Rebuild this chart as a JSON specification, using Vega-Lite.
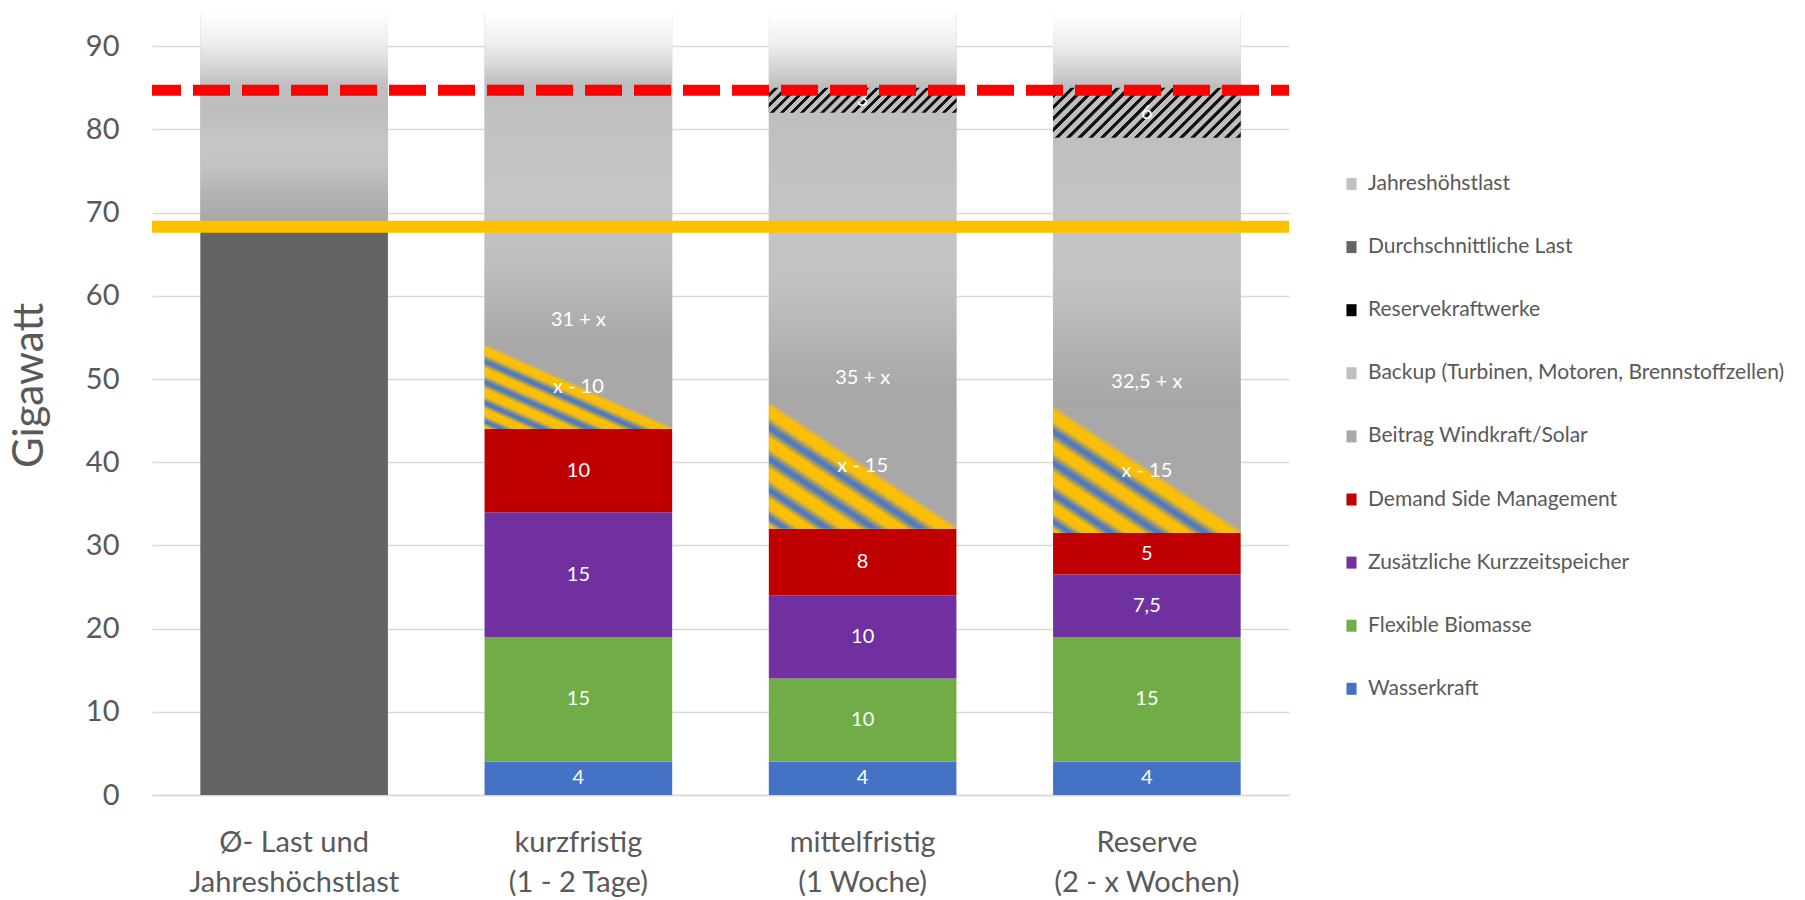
{
  "$schema": "https://vega.github.io/schema/vega-lite/v6.json",
  "autosize": "none",
  "padding": {"left": 152, "top": 13, "right": 516, "bottom": 105},
  "width": 1137,
  "height": 782,
  "background": "#ffffff",
  "config": {"view": {"stroke": null}, "font": "Lato"},
  "datasets": {
    "segmente": [
      {"kat": "Ø- Last und|Jahreshöchstlast", "serie": "Durchschnittliche Last", "von": 0, "bis": 68},
      {"kat": "Ø- Last und|Jahreshöchstlast", "serie": "Jahreshöhstlast", "von": 68, "bis": 94},
      {"kat": "kurzfristig|(1 - 2 Tage)", "serie": "Wasserkraft", "von": 0, "bis": 4, "label": "4"},
      {"kat": "kurzfristig|(1 - 2 Tage)", "serie": "Flexible Biomasse", "von": 4, "bis": 19, "label": "15"},
      {"kat": "kurzfristig|(1 - 2 Tage)", "serie": "Zusätzliche Kurzzeitspeicher", "von": 19, "bis": 34, "label": "15"},
      {"kat": "kurzfristig|(1 - 2 Tage)", "serie": "Demand Side Management", "von": 34, "bis": 44, "label": "10"},
      {"kat": "kurzfristig|(1 - 2 Tage)", "serie": "Beitrag Windkraft/Solar", "von": 44, "bis": 54, "label": "x - 10"},
      {"kat": "kurzfristig|(1 - 2 Tage)", "serie": "Backup (Turbinen, Motoren, Brennstoffzellen)", "von": 54, "bis": 94, "label": "31 + x"},
      {"kat": "mittelfristig|(1 Woche)", "serie": "Wasserkraft", "von": 0, "bis": 4, "label": "4"},
      {"kat": "mittelfristig|(1 Woche)", "serie": "Flexible Biomasse", "von": 4, "bis": 14, "label": "10"},
      {"kat": "mittelfristig|(1 Woche)", "serie": "Zusätzliche Kurzzeitspeicher", "von": 14, "bis": 24, "label": "10"},
      {"kat": "mittelfristig|(1 Woche)", "serie": "Demand Side Management", "von": 24, "bis": 32, "label": "8"},
      {"kat": "mittelfristig|(1 Woche)", "serie": "Beitrag Windkraft/Solar", "von": 32, "bis": 47, "label": "x - 15"},
      {"kat": "mittelfristig|(1 Woche)", "serie": "Backup (Turbinen, Motoren, Brennstoffzellen)", "von": 47, "bis": 94, "label": "35 + x"},
      {"kat": "mittelfristig|(1 Woche)", "serie": "Reservekraftwerke", "von": 82, "bis": 85, "label": "3"},
      {"kat": "Reserve|(2 - x Wochen)", "serie": "Wasserkraft", "von": 0, "bis": 4, "label": "4"},
      {"kat": "Reserve|(2 - x Wochen)", "serie": "Flexible Biomasse", "von": 4, "bis": 19, "label": "15"},
      {"kat": "Reserve|(2 - x Wochen)", "serie": "Zusätzliche Kurzzeitspeicher", "von": 19, "bis": 26.5, "label": "7,5"},
      {"kat": "Reserve|(2 - x Wochen)", "serie": "Demand Side Management", "von": 26.5, "bis": 31.5, "label": "5"},
      {"kat": "Reserve|(2 - x Wochen)", "serie": "Beitrag Windkraft/Solar", "von": 31.5, "bis": 46.5, "label": "x - 15"},
      {"kat": "Reserve|(2 - x Wochen)", "serie": "Backup (Turbinen, Motoren, Brennstoffzellen)", "von": 46.5, "bis": 94, "label": "32,5 + x"},
      {"kat": "Reserve|(2 - x Wochen)", "serie": "Reservekraftwerke", "von": 79, "bis": 85, "label": "6"}
    ],
    "linien": [
      {"linie": "Durchschnittliche Last", "wert": 68.3},
      {"linie": "Jahreshöchstlast", "wert": 84.7}
    ]
  },
  "data": {"name": "segmente"},
  "layer": [
    {
      "mark": {"type": "bar"},
      "encoding": {
        "x": {"field": "kat", "type": "nominal", "sort": null, "title": null,
          "scale": {"paddingInner": 0.34, "paddingOuter": 0.17},
          "axis": {"labelExpr": "split(datum.label, '|')", "labelAngle": 0, "labelFont": "Lato", "labelFontSize": 29, "labelColor": "#595959", "labelLineHeight": 40, "labelPadding": 33, "ticks": false, "tickSize": 0, "domainColor": "#d9d9d9", "domainWidth": 1.5, "grid": false, "labelBaseline": "top", "labelLimit": 400}},
        "y": {"field": "von", "type": "quantitative", "title": "Gigawatt",
          "scale": {"domain": [0, 94], "nice": false},
          "axis": {"values": [0, 10, 20, 30, 40, 50, 60, 70, 80, 90], "grid": true, "gridColor": "#d9d9d9", "gridWidth": 1.3, "domain": false, "ticks": false, "tickSize": 0, "labelFont": "Lato", "labelFontSize": 29, "labelColor": "#595959", "labelPadding": 33, "titleFont": "Lato", "titleFontSize": 42, "titleColor": "#595959", "titleFontWeight": "normal", "titleX": -123, "titleY": 372, "titleAngle": -90, "titleBaseline": "middle", "titleAlign": "center", "titlePadding": 0}},
        "y2": {"field": "bis"},
        "color": {"field": "serie", "type": "nominal",
          "scale": {
            "domain": ["Jahreshöhstlast", "Durchschnittliche Last", "Reservekraftwerke", "Backup (Turbinen, Motoren, Brennstoffzellen)", "Beitrag Windkraft/Solar", "Demand Side Management", "Zusätzliche Kurzzeitspeicher", "Flexible Biomasse", "Wasserkraft"],
            "range": ["#c0c0c0", "#636363", "#000000", "#c0c0c0", "#a8a8a8", "#c00000", "#7030a0", "#70ad47", "#4472c4"]
          },
          "legend": {"orient": "none", "legendX": 1189, "legendY": 160.5, "title": null, "symbolType": "M-0.84,-1H0.84V1H-0.84Z", "symbolSize": 144, "labelFont": "Lato", "labelFontSize": 21, "labelColor": "#595959", "rowPadding": 41.1, "labelOffset": 6, "padding": 0, "symbolStrokeWidth": 0, "labelLimit": 600}
        }
      }
    },
    {
      "transform": [{"filter": {"field": "serie", "equal": "Jahreshöhstlast"}}],
      "mark": {"type": "bar", "color": {"gradient": "linear", "x1": 0, "y1": 0, "x2": 0, "y2": 1, "stops": [
        {"offset": 0, "color": "#ffffff"}, {"offset": 0.142, "color": "#ededed"}, {"offset": 0.25, "color": "#d5d5d5"}, {"offset": 0.327, "color": "#c0c0c0"}, {"offset": 0.45, "color": "#bdbdbd"}, {"offset": 0.588, "color": "#c6c6c6"}, {"offset": 0.71, "color": "#c3c3c3"}, {"offset": 0.835, "color": "#b3b3b3"}, {"offset": 0.94, "color": "#a9a9a9"}, {"offset": 1, "color": "#a6a6a6"}]}},
      "encoding": {
        "x": {"field": "kat", "type": "nominal", "sort": null, "title": null},
        "y": {"field": "von", "type": "quantitative", "title": "Gigawatt"},
        "y2": {"field": "bis"}
      }
    },
    {
      "transform": [{"filter": {"and": [{"field": "serie", "equal": "Backup (Turbinen, Motoren, Brennstoffzellen)"}, {"field": "kat", "equal": "kurzfristig|(1 - 2 Tage)"}]}}],
      "mark": {"type": "bar", "color": {"gradient": "linear", "x1": 0, "y1": 0, "x2": 0, "y2": 1, "stops": [
        {"offset": 0, "color": "#ffffff"}, {"offset": 0.0925, "color": "#eeeeee"}, {"offset": 0.1625, "color": "#d5d5d5"}, {"offset": 0.2125, "color": "#bebebe"}, {"offset": 0.3625, "color": "#c2c2c2"}, {"offset": 0.5625, "color": "#c6c6c6"}, {"offset": 0.7625, "color": "#bdbdbd"}, {"offset": 0.9125, "color": "#afafaf"}, {"offset": 1, "color": "#a6a6a6"}]}},
      "encoding": {
        "x": {"field": "kat", "type": "nominal", "sort": null, "title": null},
        "y": {"field": "von", "type": "quantitative", "title": "Gigawatt"},
        "y2": {"field": "bis"}
      }
    },
    {
      "transform": [{"filter": {"and": [{"field": "serie", "equal": "Backup (Turbinen, Motoren, Brennstoffzellen)"}, {"not": {"field": "kat", "equal": "kurzfristig|(1 - 2 Tage)"}}]}}],
      "mark": {"type": "bar", "color": {"gradient": "linear", "x1": 0, "y1": 0, "x2": 0, "y2": 1, "stops": [
        {"offset": 0, "color": "#ffffff"}, {"offset": 0.085, "color": "#ececec"}, {"offset": 0.14, "color": "#d4d4d4"}, {"offset": 0.185, "color": "#bebebe"}, {"offset": 0.332, "color": "#c0c0c0"}, {"offset": 0.515, "color": "#c4c4c4"}, {"offset": 0.643, "color": "#c4c4c4"}, {"offset": 0.743, "color": "#bdbdbd"}, {"offset": 0.834, "color": "#b3b3b3"}, {"offset": 0.926, "color": "#ababab"}, {"offset": 1, "color": "#a6a6a6"}]}},
      "encoding": {
        "x": {"field": "kat", "type": "nominal", "sort": null, "title": null},
        "y": {"field": "von", "type": "quantitative", "title": "Gigawatt"},
        "y2": {"field": "bis"}
      }
    },
    {
      "transform": [{"filter": {"field": "serie", "equal": "Beitrag Windkraft/Solar"}}],
      "mark": {"type": "bar", "color": {"gradient": "linear", "x1": 0, "y1": 1, "x2": 1, "y2": 0, "stops": [
        {"offset": 0, "color": "#ffc000"}, {"offset": 0.015, "color": "#f5bd10"}, {"offset": 0.04, "color": "#4f79c0"}, {"offset": 0.05, "color": "#4f79c0"}, {"offset": 0.08, "color": "#f5bd10"}, {"offset": 0.12, "color": "#ffc000"}, {"offset": 0.15, "color": "#4f79c0"}, {"offset": 0.162, "color": "#4f79c0"}, {"offset": 0.195, "color": "#f5bd10"}, {"offset": 0.24, "color": "#ffc000"}, {"offset": 0.275, "color": "#4f79c0"}, {"offset": 0.287, "color": "#4f79c0"}, {"offset": 0.322, "color": "#f5bd10"}, {"offset": 0.365, "color": "#ffc000"}, {"offset": 0.4, "color": "#4f79c0"}, {"offset": 0.412, "color": "#4f79c0"}, {"offset": 0.447, "color": "#f5bd10"}, {"offset": 0.488, "color": "#ffc000"}, {"offset": 0.515, "color": "#a8a8a8"}, {"offset": 1, "color": "#a8a8a8"}]}},
      "encoding": {
        "x": {"field": "kat", "type": "nominal", "sort": null, "title": null},
        "y": {"field": "von", "type": "quantitative", "title": "Gigawatt"},
        "y2": {"field": "bis"}
      }
    },
    {
      "transform": [{"filter": {"and": [{"field": "serie", "equal": "Reservekraftwerke"}, {"field": "kat", "equal": "mittelfristig|(1 Woche)"}]}}],
      "mark": {"type": "bar", "color": {"gradient": "linear", "x1": 0, "y1": 0, "x2": 1.113, "y2": 0.148, "stops": [
        {"offset": 0, "color": "#bfbfbf"},
        {"offset": 0.0238, "color": "#bfbfbf"}, {"offset": 0.0267, "color": "#111111"}, {"offset": 0.0429, "color": "#111111"}, {"offset": 0.0457, "color": "#bfbfbf"},
        {"offset": 0.0714, "color": "#bfbfbf"}, {"offset": 0.0743, "color": "#111111"}, {"offset": 0.0905, "color": "#111111"}, {"offset": 0.0933, "color": "#bfbfbf"},
        {"offset": 0.1190, "color": "#bfbfbf"}, {"offset": 0.1219, "color": "#111111"}, {"offset": 0.1381, "color": "#111111"}, {"offset": 0.1410, "color": "#bfbfbf"},
        {"offset": 0.1667, "color": "#bfbfbf"}, {"offset": 0.1695, "color": "#111111"}, {"offset": 0.1857, "color": "#111111"}, {"offset": 0.1886, "color": "#bfbfbf"},
        {"offset": 0.2143, "color": "#bfbfbf"}, {"offset": 0.2171, "color": "#111111"}, {"offset": 0.2333, "color": "#111111"}, {"offset": 0.2362, "color": "#bfbfbf"},
        {"offset": 0.2619, "color": "#bfbfbf"}, {"offset": 0.2648, "color": "#111111"}, {"offset": 0.2810, "color": "#111111"}, {"offset": 0.2838, "color": "#bfbfbf"},
        {"offset": 0.3095, "color": "#bfbfbf"}, {"offset": 0.3124, "color": "#111111"}, {"offset": 0.3286, "color": "#111111"}, {"offset": 0.3314, "color": "#bfbfbf"},
        {"offset": 0.3571, "color": "#bfbfbf"}, {"offset": 0.3600, "color": "#111111"}, {"offset": 0.3762, "color": "#111111"}, {"offset": 0.3790, "color": "#bfbfbf"},
        {"offset": 0.4048, "color": "#bfbfbf"}, {"offset": 0.4076, "color": "#111111"}, {"offset": 0.4238, "color": "#111111"}, {"offset": 0.4267, "color": "#bfbfbf"},
        {"offset": 0.4524, "color": "#bfbfbf"}, {"offset": 0.4552, "color": "#111111"}, {"offset": 0.4714, "color": "#111111"}, {"offset": 0.4743, "color": "#bfbfbf"},
        {"offset": 0.5000, "color": "#bfbfbf"}, {"offset": 0.5029, "color": "#111111"}, {"offset": 0.5190, "color": "#111111"}, {"offset": 0.5219, "color": "#bfbfbf"},
        {"offset": 0.5476, "color": "#bfbfbf"}, {"offset": 0.5505, "color": "#111111"}, {"offset": 0.5667, "color": "#111111"}, {"offset": 0.5695, "color": "#bfbfbf"},
        {"offset": 0.5952, "color": "#bfbfbf"}, {"offset": 0.5981, "color": "#111111"}, {"offset": 0.6143, "color": "#111111"}, {"offset": 0.6171, "color": "#bfbfbf"},
        {"offset": 0.6429, "color": "#bfbfbf"}, {"offset": 0.6457, "color": "#111111"}, {"offset": 0.6619, "color": "#111111"}, {"offset": 0.6648, "color": "#bfbfbf"},
        {"offset": 0.6905, "color": "#bfbfbf"}, {"offset": 0.6933, "color": "#111111"}, {"offset": 0.7095, "color": "#111111"}, {"offset": 0.7124, "color": "#bfbfbf"},
        {"offset": 0.7381, "color": "#bfbfbf"}, {"offset": 0.7410, "color": "#111111"}, {"offset": 0.7571, "color": "#111111"}, {"offset": 0.7600, "color": "#bfbfbf"},
        {"offset": 0.7857, "color": "#bfbfbf"}, {"offset": 0.7886, "color": "#111111"}, {"offset": 0.8048, "color": "#111111"}, {"offset": 0.8076, "color": "#bfbfbf"},
        {"offset": 0.8333, "color": "#bfbfbf"}, {"offset": 0.8362, "color": "#111111"}, {"offset": 0.8524, "color": "#111111"}, {"offset": 0.8552, "color": "#bfbfbf"},
        {"offset": 0.8810, "color": "#bfbfbf"}, {"offset": 0.8838, "color": "#111111"}, {"offset": 0.9000, "color": "#111111"}, {"offset": 0.9029, "color": "#bfbfbf"},
        {"offset": 0.9286, "color": "#bfbfbf"}, {"offset": 0.9314, "color": "#111111"}, {"offset": 0.9476, "color": "#111111"}, {"offset": 0.9505, "color": "#bfbfbf"},
        {"offset": 0.9762, "color": "#bfbfbf"}, {"offset": 0.9790, "color": "#111111"}, {"offset": 0.9952, "color": "#111111"}, {"offset": 0.9981, "color": "#bfbfbf"},
        {"offset": 1, "color": "#bfbfbf"}]}},
      "encoding": {
        "x": {"field": "kat", "type": "nominal", "sort": null, "title": null},
        "y": {"field": "von", "type": "quantitative", "title": "Gigawatt"},
        "y2": {"field": "bis"}
      }
    },
    {
      "transform": [{"filter": {"and": [{"field": "serie", "equal": "Reservekraftwerke"}, {"field": "kat", "equal": "Reserve|(2 - x Wochen)"}]}}],
      "mark": {"type": "bar", "color": {"gradient": "linear", "x1": 0, "y1": 0, "x2": 1.182, "y2": 0.314, "stops": [
        {"offset": 0, "color": "#bfbfbf"},
        {"offset": 0.0238, "color": "#bfbfbf"}, {"offset": 0.0267, "color": "#111111"}, {"offset": 0.0429, "color": "#111111"}, {"offset": 0.0457, "color": "#bfbfbf"},
        {"offset": 0.0714, "color": "#bfbfbf"}, {"offset": 0.0743, "color": "#111111"}, {"offset": 0.0905, "color": "#111111"}, {"offset": 0.0933, "color": "#bfbfbf"},
        {"offset": 0.1190, "color": "#bfbfbf"}, {"offset": 0.1219, "color": "#111111"}, {"offset": 0.1381, "color": "#111111"}, {"offset": 0.1410, "color": "#bfbfbf"},
        {"offset": 0.1667, "color": "#bfbfbf"}, {"offset": 0.1695, "color": "#111111"}, {"offset": 0.1857, "color": "#111111"}, {"offset": 0.1886, "color": "#bfbfbf"},
        {"offset": 0.2143, "color": "#bfbfbf"}, {"offset": 0.2171, "color": "#111111"}, {"offset": 0.2333, "color": "#111111"}, {"offset": 0.2362, "color": "#bfbfbf"},
        {"offset": 0.2619, "color": "#bfbfbf"}, {"offset": 0.2648, "color": "#111111"}, {"offset": 0.2810, "color": "#111111"}, {"offset": 0.2838, "color": "#bfbfbf"},
        {"offset": 0.3095, "color": "#bfbfbf"}, {"offset": 0.3124, "color": "#111111"}, {"offset": 0.3286, "color": "#111111"}, {"offset": 0.3314, "color": "#bfbfbf"},
        {"offset": 0.3571, "color": "#bfbfbf"}, {"offset": 0.3600, "color": "#111111"}, {"offset": 0.3762, "color": "#111111"}, {"offset": 0.3790, "color": "#bfbfbf"},
        {"offset": 0.4048, "color": "#bfbfbf"}, {"offset": 0.4076, "color": "#111111"}, {"offset": 0.4238, "color": "#111111"}, {"offset": 0.4267, "color": "#bfbfbf"},
        {"offset": 0.4524, "color": "#bfbfbf"}, {"offset": 0.4552, "color": "#111111"}, {"offset": 0.4714, "color": "#111111"}, {"offset": 0.4743, "color": "#bfbfbf"},
        {"offset": 0.5000, "color": "#bfbfbf"}, {"offset": 0.5029, "color": "#111111"}, {"offset": 0.5190, "color": "#111111"}, {"offset": 0.5219, "color": "#bfbfbf"},
        {"offset": 0.5476, "color": "#bfbfbf"}, {"offset": 0.5505, "color": "#111111"}, {"offset": 0.5667, "color": "#111111"}, {"offset": 0.5695, "color": "#bfbfbf"},
        {"offset": 0.5952, "color": "#bfbfbf"}, {"offset": 0.5981, "color": "#111111"}, {"offset": 0.6143, "color": "#111111"}, {"offset": 0.6171, "color": "#bfbfbf"},
        {"offset": 0.6429, "color": "#bfbfbf"}, {"offset": 0.6457, "color": "#111111"}, {"offset": 0.6619, "color": "#111111"}, {"offset": 0.6648, "color": "#bfbfbf"},
        {"offset": 0.6905, "color": "#bfbfbf"}, {"offset": 0.6933, "color": "#111111"}, {"offset": 0.7095, "color": "#111111"}, {"offset": 0.7124, "color": "#bfbfbf"},
        {"offset": 0.7381, "color": "#bfbfbf"}, {"offset": 0.7410, "color": "#111111"}, {"offset": 0.7571, "color": "#111111"}, {"offset": 0.7600, "color": "#bfbfbf"},
        {"offset": 0.7857, "color": "#bfbfbf"}, {"offset": 0.7886, "color": "#111111"}, {"offset": 0.8048, "color": "#111111"}, {"offset": 0.8076, "color": "#bfbfbf"},
        {"offset": 0.8333, "color": "#bfbfbf"}, {"offset": 0.8362, "color": "#111111"}, {"offset": 0.8524, "color": "#111111"}, {"offset": 0.8552, "color": "#bfbfbf"},
        {"offset": 0.8810, "color": "#bfbfbf"}, {"offset": 0.8838, "color": "#111111"}, {"offset": 0.9000, "color": "#111111"}, {"offset": 0.9029, "color": "#bfbfbf"},
        {"offset": 0.9286, "color": "#bfbfbf"}, {"offset": 0.9314, "color": "#111111"}, {"offset": 0.9476, "color": "#111111"}, {"offset": 0.9505, "color": "#bfbfbf"},
        {"offset": 0.9762, "color": "#bfbfbf"}, {"offset": 0.9790, "color": "#111111"}, {"offset": 0.9952, "color": "#111111"}, {"offset": 0.9981, "color": "#bfbfbf"},
        {"offset": 1, "color": "#bfbfbf"}]}},
      "encoding": {
        "x": {"field": "kat", "type": "nominal", "sort": null, "title": null},
        "y": {"field": "von", "type": "quantitative", "title": "Gigawatt"},
        "y2": {"field": "bis"}
      }
    },
    {
      "transform": [
        {"filter": "isValid(datum.label) && datum.serie !== 'Backup (Turbinen, Motoren, Brennstoffzellen)'"},
        {"calculate": "(datum.von + datum.bis) / 2", "as": "mitte"}
      ],
      "mark": {"type": "text", "color": "#ffffff", "font": "Lato", "fontSize": 20, "baseline": "middle", "align": "center"},
      "encoding": {
        "x": {"field": "kat", "type": "nominal", "sort": null, "title": null},
        "y": {"field": "mitte", "type": "quantitative", "title": "Gigawatt"},
        "text": {"field": "label"}
      }
    },
    {
      "transform": [{"filter": {"field": "serie", "equal": "Backup (Turbinen, Motoren, Brennstoffzellen)"}}],
      "mark": {"type": "text", "color": "#ffffff", "font": "Lato", "fontSize": 20, "baseline": "middle", "align": "center", "dy": -26},
      "encoding": {
        "x": {"field": "kat", "type": "nominal", "sort": null, "title": null},
        "y": {"field": "von", "type": "quantitative", "title": "Gigawatt"},
        "text": {"field": "label"}
      }
    },
    {
      "data": {"name": "linien"},
      "transform": [{"filter": {"field": "linie", "equal": "Durchschnittliche Last"}}],
      "mark": {"type": "rule", "color": "#ffc000", "strokeWidth": 12},
      "encoding": {"y": {"field": "wert", "type": "quantitative", "title": "Gigawatt"}}
    },
    {
      "data": {"name": "linien"},
      "transform": [{"filter": {"field": "linie", "equal": "Jahreshöchstlast"}}],
      "mark": {"type": "rule", "color": "#ff0000", "strokeWidth": 11, "strokeDash": [37, 12], "strokeDashOffset": 19},
      "encoding": {"y": {"field": "wert", "type": "quantitative", "title": "Gigawatt"}}
    }
  ]
}
